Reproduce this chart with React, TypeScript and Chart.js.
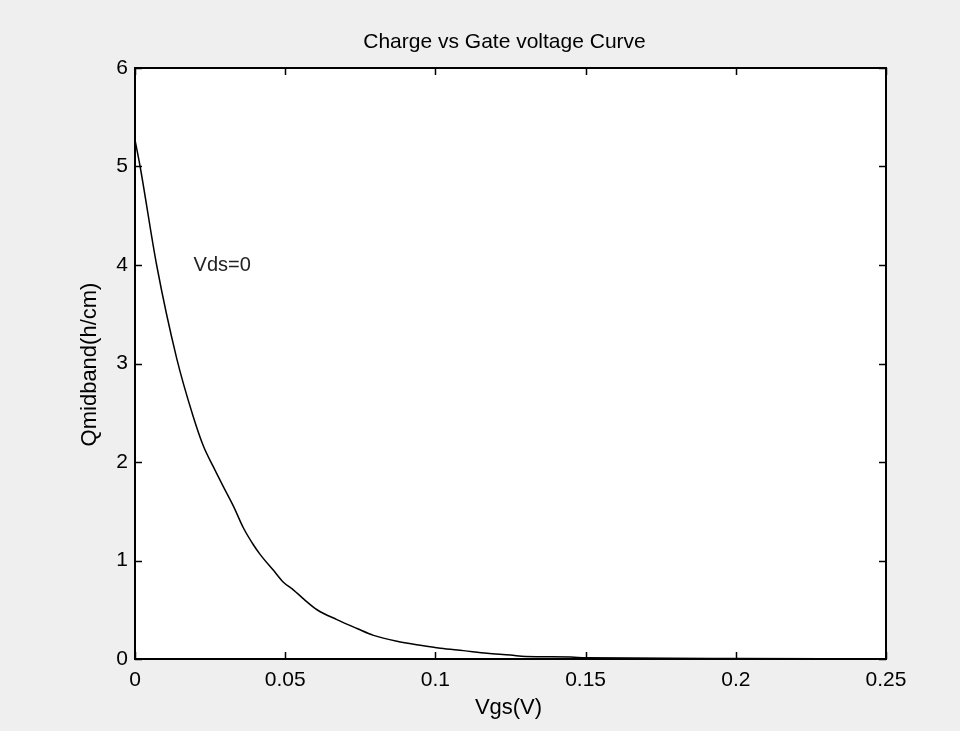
import React, { useEffect, useRef } from "react";
import { Chart, registerables } from "chart.js";

Chart.register(...registerables);

// ---- data ----
const vgs = [
  0, 0.0017, 0.0072, 0.0139, 0.0194, 0.0228, 0.0261, 0.0294, 0.0328, 0.0361,
  0.0394, 0.0417, 0.0461, 0.0494, 0.0528, 0.0561, 0.0606, 0.0672, 0.0739,
  0.0794, 0.0872, 0.095, 0.1017, 0.1094, 0.1172, 0.125, 0.13, 0.145, 0.15,
  0.2, 0.25,
];
const qmid = [
  5.27, 5.0, 4.0, 3.05, 2.46, 2.16, 1.95, 1.75, 1.55, 1.33, 1.16, 1.06, 0.9,
  0.78, 0.7, 0.61, 0.5, 0.4, 0.31, 0.24, 0.18, 0.14, 0.11, 0.085, 0.058, 0.04,
  0.025, 0.02, 0.012, 0.005, 0.002,
];
const xTicks = [0, 0.05, 0.1, 0.15, 0.2, 0.25];
const xTickLabels = ["0", "0.05", "0.1", "0.15", "0.2", "0.25"];
const yTicks = [0, 1, 2, 3, 4, 5, 6];
const yTickLabels = ["0", "1", "2", "3", "4", "5", "6"];
const titleText = "Charge vs Gate voltage Curve";
const xTitleText = "Vgs(V)";
const yTitleText = "Qmidband(h/cm)";
const noteText = "Vds=0";
const noteX = 0.0195;
const noteY = 4;

const FONT = "'Liberation Sans', Arial, Helvetica, sans-serif";

const framePlugin = {
  id: "matlabFrame",
  beforeDraw(chart: any) {
    const { ctx, chartArea: a, width, height } = chart;
    ctx.save();
    ctx.fillStyle = "#efefef";
    ctx.fillRect(0, 0, width, height);
    ctx.fillStyle = "#ffffff";
    ctx.fillRect(a.left, a.top, a.right - a.left, a.bottom - a.top);
    ctx.restore();
  },
  afterDatasetsDraw(chart: any) {
    const { ctx, chartArea: a, scales } = chart;
    const xs = scales.x;
    const ys = scales.y;
    ctx.save();
    // ticks (inward)
    ctx.strokeStyle = "#000";
    ctx.lineWidth = 1.5;
    const tl = 7;
    ctx.beginPath();
    xTicks.forEach((v) => {
      const px = Math.round(xs.getPixelForValue(v)) + 0.5;
      ctx.moveTo(px, a.bottom);
      ctx.lineTo(px, a.bottom - tl);
      ctx.moveTo(px, a.top);
      ctx.lineTo(px, a.top + tl);
    });
    yTicks.forEach((v) => {
      const py = Math.round(ys.getPixelForValue(v)) + 0.5;
      ctx.moveTo(a.left, py);
      ctx.lineTo(a.left + tl, py);
      ctx.moveTo(a.right, py);
      ctx.lineTo(a.right - tl, py);
    });
    ctx.stroke();
    // frame
    ctx.lineWidth = 2;
    ctx.strokeRect(a.left, a.top, a.right - a.left, a.bottom - a.top);

    // annotation
    ctx.fillStyle = "#222";
    ctx.font = `20px ${FONT}`;
    ctx.textAlign = "left";
    ctx.textBaseline = "middle";
    ctx.fillText(noteText, xs.getPixelForValue(noteX), ys.getPixelForValue(noteY));

    // title
    ctx.fillStyle = "#000";
    ctx.font = `21px ${FONT}`;
    ctx.textAlign = "center";
    ctx.textBaseline = "alphabetic";
    ctx.fillText(titleText, (a.left + a.right) / 2 - 6, 48);

    // x title
    ctx.font = `22px ${FONT}`;
    ctx.fillText(xTitleText, (a.left + a.right) / 2 - 2, 714);

    // y title
    ctx.save();
    ctx.translate(90, (a.top + a.bottom) / 2 + 1);
    ctx.rotate(-Math.PI / 2);
    ctx.textBaseline = "middle";
    ctx.fillText(yTitleText, 0, 0);
    ctx.restore();

    ctx.restore();
  },
};

export default function App() {
  const ref = useRef<HTMLCanvasElement | null>(null);
  useEffect(() => {
    document.body.style.margin = "0";
    const canvas = ref.current;
    if (!canvas) return;
    const chart = new Chart(canvas, {
      type: "line",
      data: {
        datasets: [
          {
            data: vgs.map((x, i) => ({ x, y: qmid[i] })),
            borderColor: "#000",
            borderWidth: 1.5,
            pointRadius: 0,
            cubicInterpolationMode: "monotone",
            fill: false,
          },
        ],
      },
      options: {
        responsive: false,
        animation: false,
        devicePixelRatio: 1,
        layout: { padding: { left: 0, top: 68, right: 74, bottom: 0 } },
        plugins: {
          legend: { display: false },
          title: { display: false },
          tooltip: { enabled: false },
        },
        scales: {
          x: {
            type: "linear",
            min: 0,
            max: 0.25,
            grid: { display: false, drawTicks: false },
            border: { display: false },
            afterFit: (s: any) => {
              s.height = 72;
            },
            afterBuildTicks: (s: any) => {
              s.ticks = xTicks.map((v) => ({ value: v }));
            },
            ticks: {
              autoSkip: false,
              maxRotation: 0,
              padding: 9,
              color: "#000",
              font: { family: FONT, size: 21 },
              callback: (v: any) => {
                const i = xTicks.findIndex((t) => Math.abs(t - Number(v)) < 1e-9);
                return i >= 0 ? xTickLabels[i] : "";
              },
            },
          },
          y: {
            type: "linear",
            min: 0,
            max: 6,
            grid: { display: false, drawTicks: false },
            border: { display: false },
            afterFit: (s: any) => {
              s.width = 135;
            },
            afterBuildTicks: (s: any) => {
              s.ticks = yTicks.map((v) => ({ value: v }));
            },
            ticks: {
              autoSkip: false,
              padding: 7,
              color: "#000",
              font: { family: FONT, size: 21 },
              callback: (v: any) => {
                const i = yTicks.findIndex((t) => Math.abs(t - Number(v)) < 1e-9);
                return i >= 0 ? yTickLabels[i] : "";
              },
            },
          },
        },
      },
      plugins: [framePlugin],
    });
    return () => chart.destroy();
  }, []);
  return (
    <div style={{ position: "absolute", left: 0, top: 0, width: 960, height: 731 }}>
      <canvas ref={ref} width={960} height={731} style={{ display: "block" }} />
    </div>
  );
}
